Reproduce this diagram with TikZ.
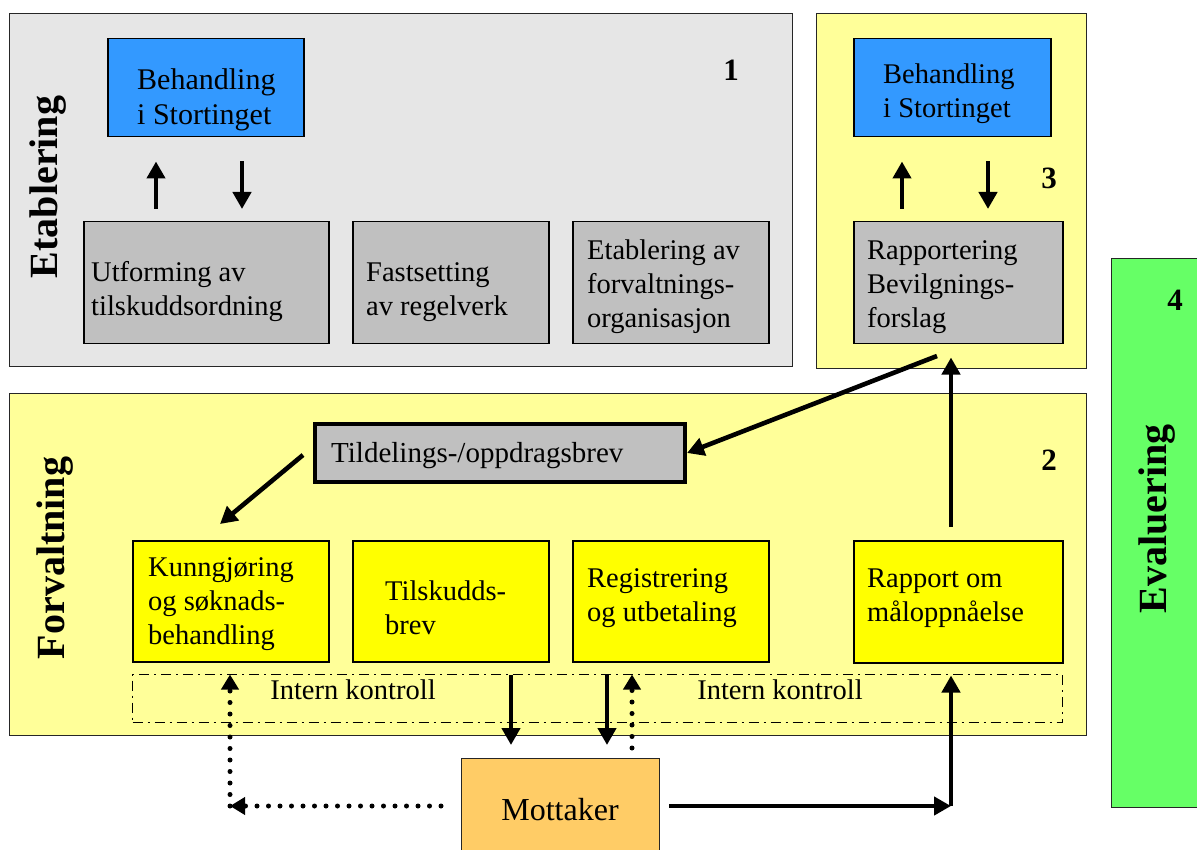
\documentclass[tikz,border=0pt]{standalone}
\usepackage{fontspec}
\setmainfont{Liberation Serif}
\usetikzlibrary{arrows.meta}
\definecolor{bggray}{HTML}{E6E6E6}
\definecolor{bgyellow}{HTML}{FFFF99}
\definecolor{boxgray}{HTML}{C0C0C0}
\definecolor{boxblue}{HTML}{3399FF}
\definecolor{boxyellow}{HTML}{FFFF00}
\definecolor{boxorange}{HTML}{FFCC66}
\definecolor{boxgreen}{HTML}{66FF66}
\begin{document}
\begin{tikzpicture}[x=1pt,y=-1pt,
  region/.style={draw=black!85, line width=1.3pt, anchor=north west, inner sep=0pt},
  bx/.style={draw=black, line width=1.5pt, anchor=north west, inner sep=0pt},
  txt/.style={anchor=west, align=left, inner sep=0pt, font=\fontsize{28.5}{34}\selectfont},
  side/.style={rotate=90, font=\fontsize{40}{42}\selectfont\bfseries},
  num/.style={font=\fontsize{31}{33}\selectfont\bfseries},
  lbl/.style={font=\fontsize{28.5}{34}\selectfont},
  arr/.style={line width=4.6pt, -{Triangle[length=17pt,width=18pt]}},
  dotarr/.style={line width=5pt, line cap=round, dash pattern=on 0pt off 11.5pt,
    -{Triangle[length=15pt,width=17pt]}},
  dashdotbox/.style={draw=black, line width=1.3pt, dash pattern=on 10pt off 5pt on 2pt off 5pt,
    anchor=north west, inner sep=0pt}
]
\useasboundingbox (0,0) rectangle (1197,850);

% regions
\node[region, fill=bggray, minimum width=783, minimum height=353] (etab) at (9,13) {};
\node[region, fill=bgyellow, minimum width=270, minimum height=355] (reg3) at (816,13) {};
\node[region, fill=bgyellow, minimum width=1077, minimum height=342] (forv) at (9,393) {};
\node[region, fill=boxgreen, minimum width=100, minimum height=549] (eval) at (1111,258) {};

% side labels
\node[side] (lEtab) at (48,187) {Etablering};
\node[side] (lForv) at (55,558) {Forvaltning};
\node[side] (lEval) at (1157,519) {Evaluering};

% numbers
\node[num] (n1) at (731,70) {1};
\node[num] (n3) at (1049,178) {3};
\node[num] (n2) at (1049,460) {2};
\node[num] (n4) at (1175,300) {4};

% boxes region 1
\node[bx, fill=boxblue, minimum width=196, minimum height=98] (beh1) at (107,38) {};
\node[txt, font=\fontsize{30}{35}\selectfont, xshift=30pt, yshift=-12pt] (beh1t) at (beh1.west) {Behandling\\i Stortinget};
\node[bx, fill=boxgray, minimum width=245, minimum height=122] (utf) at (83,221) {};
\node[txt, xshift=8pt, yshift=-9pt] (utft) at (utf.west) {Utforming av\\tilskuddsordning};
\node[bx, fill=boxgray, minimum width=196, minimum height=122] (fast) at (352,221) {};
\node[txt, xshift=14pt, yshift=-9pt] (fastt) at (fast.west) {Fastsetting\\av regelverk};
\node[bx, fill=boxgray, minimum width=196, minimum height=122] (etabl) at (572,221) {};
\node[txt, xshift=15pt, yshift=-4pt] (etablt) at (etabl.west) {Etablering av\\forvaltnings-\\organisasjon};

% boxes region 3
\node[bx, fill=boxblue, minimum width=197, minimum height=98] (beh3) at (853,38) {};
\node[txt, xshift=30pt, yshift=-6pt] (beh3t) at (beh3.west) {Behandling\\i Stortinget};
\node[bx, fill=boxgray, minimum width=209, minimum height=122] (rapp) at (853,221) {};
\node[txt, xshift=14pt, yshift=-4pt] (rappt) at (rapp.west) {Rapportering\\Bevilgnings-\\forslag};

% boxes region 2
\node[bx, fill=boxgray, line width=4pt, minimum width=370, minimum height=58] (tild) at (313,422) {};
\node[txt, font=\fontsize{29}{34}\selectfont, xshift=18pt, yshift=-3pt] (tildt) at (tild.west) {Tildelings-/oppdragsbrev};
\node[bx, fill=boxyellow, minimum width=196, minimum height=121] (kunn) at (132,540) {};
\node[txt, xshift=16pt, yshift=-3pt] (kunnt) at (kunn.west) {Kunngjøring\\og søknads-\\behandling};
\node[bx, fill=boxyellow, minimum width=196, minimum height=121] (tilsk) at (352,540) {};
\node[txt, xshift=33pt, yshift=-6pt] (tilskt) at (tilsk.west) {Tilskudds-\\brev};
\node[bx, fill=boxyellow, minimum width=196, minimum height=121] (reg) at (572,540) {};
\node[txt, xshift=15pt, yshift=3pt] (regt) at (reg.west) {Registrering\\og utbetaling};
\node[bx, fill=boxyellow, minimum width=209, minimum height=122] (rom) at (853,540) {};
\node[txt, xshift=14pt, yshift=4pt] (romt) at (rom.west) {Rapport om\\måloppnåelse};

% intern kontroll
\node[dashdotbox, minimum width=930, minimum height=48] (intern) at (132,674) {};
\node[lbl] (ik1) at (353,690) {Intern kontroll};
\node[lbl] (ik2) at (780,690) {Intern kontroll};

% mottaker
\node[draw=black!85, line width=1.3pt, fill=boxorange, anchor=north west, minimum width=198,
  minimum height=110, inner sep=0pt] (mott) at (461,758) {};
\node[lbl, font=\fontsize{32}{34}\selectfont] (mottxt) at (560,810) {Mottaker};

% helper coordinates
\coordinate (x156) at (156,0);
\coordinate (x242) at (242,0);
\coordinate (x902) at (902,0);
\coordinate (x988) at (988,0);
\coordinate (x951) at (951,0);
\coordinate (x511) at (511,0);
\coordinate (x607) at (607,0);
\coordinate (x632) at (632,0);
\coordinate (x230) at (230,0);
\coordinate (rappout) at (937,356);
\coordinate (tildout) at (303,455);
\coordinate (kunnin) at (220,524);
\coordinate (cornerL) at (230,806);
\coordinate (cornerR) at (951,806);
\coordinate (mottL) at (441,806);
\coordinate (mottR) at (669,806);

% arrows region 1
\draw[arr, shorten <=12pt, shorten >=24pt] (utf.north -| x156) -- (beh1.south -| x156);
\draw[arr, shorten <=24pt, shorten >=12pt] (beh1.south -| x242) -- (utf.north -| x242);
% arrows region 3
\draw[arr, shorten <=12pt, shorten >=24pt] (rapp.north -| x902) -- (beh3.south -| x902);
\draw[arr, shorten <=24pt, shorten >=12pt] (beh3.south -| x988) -- (rapp.north -| x988);

% region 2 arrows
\draw[arr] (rappout) -- (tild.east);
\draw[arr] (tildout) -- (kunnin);
\draw[arr, shorten <=13pt, shorten >=13pt] (rom.north -| x951) -- (rapp.south -| x951);
\draw[arr, shorten <=12pt, shorten >=13pt] (tilsk.south -| x511) -- (mott.north -| x511);
\draw[arr, shorten <=12pt, shorten >=13pt] (reg.south -| x607) -- (mott.north -| x607);

% dotted
\draw[dotarr, shorten <=10pt, shorten >=12pt] (mott.north -| x632) -- (reg.south -| x632);
\draw[dotarr] (mottL) -- (cornerL);
\draw[dotarr, shorten >=12pt] (cornerL) -- (kunn.south -| x230);

% mottaker to rapport
\draw[arr] (mottR) -- (cornerR);
\draw[arr, shorten >=12pt] (cornerR) -- (rom.south -| x951);
\end{tikzpicture}
\end{document}
